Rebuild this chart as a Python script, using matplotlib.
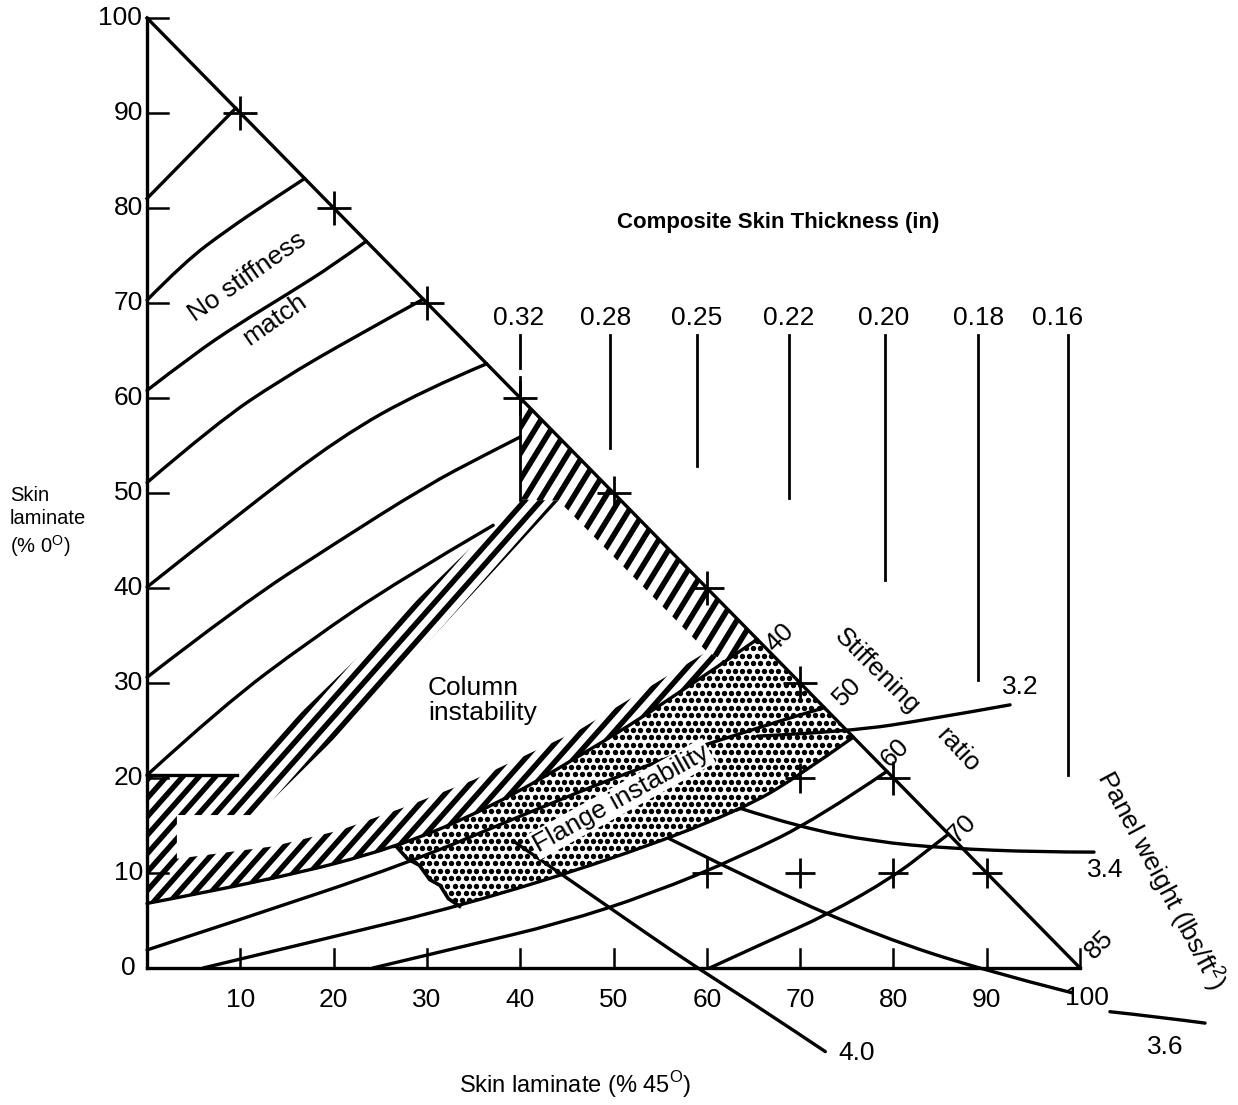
import numpy as np
import matplotlib.pyplot as plt
from matplotlib.patches import Polygon, PathPatch
from matplotlib.path import Path
from matplotlib.collections import LineCollection

plt.rcParams['font.family'] = ['Liberation Sans', 'DejaVu Sans']
plt.rcParams['mathtext.fontset'] = 'custom'
plt.rcParams['mathtext.rm'] = 'Liberation Sans'

# axis ticks
tick_vals = [0, 10, 20, 30, 40, 50, 60, 70, 80, 90, 100]

# stiffness-match curves (left axis -> hypotenuse), % 45 vs % 0
stiff_x = [
    [0, 9.5],
    [0, 4, 8.6, 13, 16.9],
    [0, 5, 10, 15, 20, 23.5],
    [0, 7.5, 14.3, 22, 29.6],
    [0, 10, 20.7, 29.6, 36.4],
    [0, 10, 20, 30, 36, 40],
    [0, 8, 17.5, 27, 37.1],
]
stiff_y = [
    [81, 90.5],
    [70.3, 74.3, 77.7, 80.6, 83.1],
    [60.8, 64.6, 67.9, 70.9, 74.0, 76.5],
    [51.1, 57.4, 61.9, 66.3, 70.4],
    [40.1, 47.9, 55.9, 60.8, 63.6],
    [30.6, 38.2, 44.6, 50.8, 53.9, 55.9],
    [20.3, 27.5, 34.5, 40.8, 46.6],
]

# stiffening ratio curves
r40_x = [0, 13.5, 26.8, 37, 46.4, 56, 65.4]
r40_y = [6.8, 9.3, 12.7, 17.0, 22.3, 28.2, 34.6]
r50_x = [0, 10, 27.9, 40, 52, 63.6, 72.6]
r50_y = [1.9, 5.1, 11.0, 16.0, 20.8, 24.8, 27.4]
r55_x = [6, 20, 33.5, 50, 63.6, 70, 75.7]
r55_y = [0, 3.3, 6.5, 11.5, 16.6, 20.3, 24.3]
r60_x = [24.2, 34, 44.3, 54, 63.6, 72, 79.3]
r60_y = [0, 2.3, 4.7, 7.8, 11.7, 15.8, 20.7]
r70_x = [60.3, 66.5, 72.9, 80, 84.2, 85.9]
r70_y = [0, 2.8, 5.6, 9.6, 12.8, 14.1]
ratio_labels = ['40', '50', '60', '70', '85']
ratio_lab_x = [67.8, 75.1, 80.2, 87.4, 102.1]
ratio_lab_y = [34.8, 29.1, 22.7, 14.7, 2.5]

# panel weight curves (lbs/ft2)
w32_x = [65.4, 75.3, 84, 92.5]
w32_y = [24.4, 24.9, 26.2, 27.7]
w34_x = [63.6, 70, 78, 85.7, 95.7, 101.5]
w34_y = [16.8, 14.8, 13.3, 12.6, 12.2, 12.2]
w36_x = [56, 67, 78.6, 89.5, 99.1]
w36_y = [13.6, 8.2, 3.3, -0.2, -2.6]
w36_tail_x = [103.2, 108, 113.4]
w36_tail_y = [-4.6, -5.1, -5.8]
w40_x = [39.2, 46, 53.6, 59, 66, 72.7]
w40_y = [13.4, 8.8, 3.6, 0, -4.4, -8.8]
weight_labels = ['3.2', '3.4', '3.6', '4.0']
weight_lab_x = [93.6, 102.7, 109.1, 76.1]
weight_lab_y = [29.6, 10.3, -8.3, -8.9]

# composite skin thickness lines
thick_labels = ['0.32', '0.28', '0.25', '0.22', '0.20', '0.18', '0.16']
thick_x = [40, 49.6, 58.9, 68.8, 79.1, 89.1, 98.7]
thick_bottom = [49.3, 54.7, 52.8, 49.5, 40.8, 30.3, 20.3]
thick_lab_x = [39.8, 49.2, 58.9, 68.8, 78.9, 89.1, 97.6]

# cross marks
hyp_cross_x = [10, 20, 30, 40, 50, 60, 70, 80]
hyp_cross_y = [90, 80, 70, 60, 50, 40, 30, 20]
grid_cross_x = [70, 60, 70, 80, 90]
grid_cross_y = [20, 10, 10, 10, 10]

# shaded regions
hyp_strip = [(40, 60), (65.4, 34.6), (62, 32.3), (60, 33.3), (44.1, 49.2), (40, 49.3)]
col_band = [(0, 6.8), (0, 20.3), (9.6, 20.3), (40, 49.3), (44.1, 49.2), (25.7, 29.6),
            (11.8, 16.1), (3.2, 16.1), (3.2, 11.5), (13.5, 12.8), (20.7, 14.5),
            (27.8, 17.0), (35, 19.8), (46.4, 25.1), (60, 33.3), (62, 32.3),
            (56, 28.2), (46.4, 22.3), (37, 17.0), (26.8, 12.7), (13.5, 9.3)]
flange = [(26.8, 12.7), (37, 17.0), (46.4, 22.3), (56, 28.2), (65.4, 34.6),
          (75.7, 24.3), (70, 20.3), (63.6, 16.6), (50, 11.5), (33.5, 6.5),
          (32.3, 7.3), (31.4, 8.7), (30.3, 9.3), (29.2, 10.8), (27.9, 11.5)]

fig = plt.figure(figsize=(12.38, 11.05), dpi=100)
ax = fig.add_axes([0, 0, 1, 1])

LW = 2.4
FS = 19


def hatch_region(poly, angle, gap, lw):
    patch = Polygon(poly, closed=True, fc='none', ec='none')
    ax.add_patch(patch)
    a = np.radians(angle)
    d = np.array([np.cos(a), np.sin(a)])
    n = np.array([-np.sin(a), np.cos(a)])
    proj = np.array(poly) @ n
    segs = [[s * n - 200 * d, s * n + 200 * d] for s in np.arange(proj.min(), proj.max() + gap, gap)]
    lc = LineCollection(segs, colors='black', linewidths=lw, zorder=2)
    ax.add_collection(lc, autolim=False)
    lc.set_clip_path(patch)


def smooth_line(xs, ys, lw=LW, z=3):
    pts = list(zip(xs, ys))
    if len(pts) < 3:
        ax.plot(xs, ys, color='black', lw=lw, zorder=z)
        return
    verts = [pts[0]]
    codes = [Path.MOVETO]
    for i in range(1, len(pts) - 2):
        mid = ((pts[i][0] + pts[i + 1][0]) / 2, (pts[i][1] + pts[i + 1][1]) / 2)
        verts += [pts[i], mid]
        codes += [Path.CURVE3, Path.CURVE3]
    verts += [pts[-2], pts[-1]]
    codes += [Path.CURVE3, Path.CURVE3]
    ax.add_patch(PathPatch(Path(verts, codes), fc='none', ec='black', lw=lw,
                           zorder=z, capstyle='round'))


hatch_region(hyp_strip, 58, 1.45, 4.0)
hatch_region(col_band, 48, 1.3, 3.9)

# dotted flange instability region
fpatch = Polygon(flange, closed=True, fc='none', ec='none', zorder=3)
ax.add_patch(fpatch)
gx, gy = np.meshgrid(np.arange(24, 80, 0.78), np.arange(4, 38, 0.78))
gx[::2] += 0.39
dots = ax.scatter(gx.ravel(), gy.ravel(), s=15, c='black', lw=0, zorder=2)
dots.set_clip_path(fpatch)
wave = flange[9:] + flange[:1]
ax.plot([p[0] for p in wave], [p[1] for p in wave], color='black', lw=2.6, zorder=3)

# axes and triangle
ax.plot([0, 0], [0, 100], color='black', lw=LW, zorder=3)
ax.plot([0, 100], [0, 0], color='black', lw=LW, zorder=3)
ax.plot([0, 100], [100, 0], color='black', lw=LW, zorder=3)
for v in tick_vals[1:]:
    ax.plot([0, 2.2], [v, v], color='black', lw=1.8, zorder=3)
    ax.plot([v, v], [0, 2.0], color='black', lw=1.8, zorder=3)
for v in tick_vals:
    ax.text(-2.0 if v < 100 else -2.9, v, str(v), fontsize=FS, ha='center', va='center')
for v in tick_vals[1:-1]:
    ax.text(v, -3.4, str(v), fontsize=FS, ha='center', va='center')

# stiffness curves
for xs, ys in zip(stiff_x, stiff_y):
    smooth_line(xs, ys)
ax.plot([0, 9.6], [20.3, 20.3], color='black', lw=LW, zorder=3)

# ratio and weight curves
for xs, ys in [(r40_x, r40_y), (r50_x, r50_y), (r55_x, r55_y), (r60_x, r60_y), (r70_x, r70_y),
               (w32_x, w32_y), (w34_x, w34_y), (w36_x, w36_y), (w36_tail_x, w36_tail_y),
               (w40_x, w40_y)]:
    smooth_line(xs, ys, z=4)

# thickness lines
for i, (x, yb, lab, lx) in enumerate(zip(thick_x, thick_bottom, thick_labels, thick_lab_x)):
    if i == 0:
        ax.plot([x, x], [66.6, 63.2], color='black', lw=2.0, zorder=3)
        ax.plot([x, x], [62.2, yb], color='black', lw=2.0, zorder=3)
    else:
        ax.plot([x, x], [66.6, yb], color='black', lw=2.0, zorder=3)
    ax.text(lx, 68.4, lab, fontsize=FS, ha='center', va='center')

# crosses
ax.plot(hyp_cross_x, hyp_cross_y, '+', color='black', ms=24, mew=2.0, zorder=4)
ax.plot(grid_cross_x, grid_cross_y, '+', color='black', ms=22, mew=2.0, zorder=4)

# labels
for lab, x, y in zip(ratio_labels, ratio_lab_x, ratio_lab_y):
    ax.text(x, y, lab, fontsize=FS, rotation=45, ha='center', va='center')
ax.text(100.7, -3.2, '100', fontsize=FS, ha='center', va='center')
for lab, x, y in zip(weight_labels, weight_lab_x, weight_lab_y):
    ax.text(x, y, lab, fontsize=FS, ha='center', va='center')

ax.text(67.6, 78.5, 'Composite Skin Thickness (in)', fontsize=16, fontweight='bold',
        ha='center', va='center')
ax.text(10.7, 72.8, 'No stiffness', fontsize=FS, rotation=35, ha='center', va='center')
ax.text(13.7, 68.2, 'match', fontsize=FS, rotation=35, ha='center', va='center')
ax.text(30.1, 28.2, 'Column\ninstability', fontsize=FS, ha='left', va='center', linespacing=1.05)
ax.text(50.8, 17.8, 'Flange instability', fontsize=FS, rotation=29, ha='center', va='center',
        zorder=6, bbox=dict(fc='white', ec='none', pad=1.5))
ax.text(78.3, 31.2, 'Stiffening', fontsize=FS, rotation=-45, ha='center', va='center')
ax.text(86.9, 22.9, 'ratio', fontsize=FS, rotation=-47, ha='center', va='center')
ax.text(108.8, 9.3, 'Panel weight (lbs/ft$^2$)', fontsize=FS, rotation=-62,
        ha='center', va='center')
ax.text(-14.7, 46.9, 'Skin\nlaminate\n(% 0$^{\\rm O}$)', fontsize=14.5, ha='left', va='center',
        linespacing=1.25)
ax.text(45.9, -12.3, 'Skin laminate (% 45$^{\\rm O}$)', fontsize=17, ha='center', va='center')

ax.set_xlim(-15.76, 116.93)
ax.set_ylim(-14.42, 101.89)
ax.axis('off')

fig.savefig('out.png', dpi=100, facecolor='white')
